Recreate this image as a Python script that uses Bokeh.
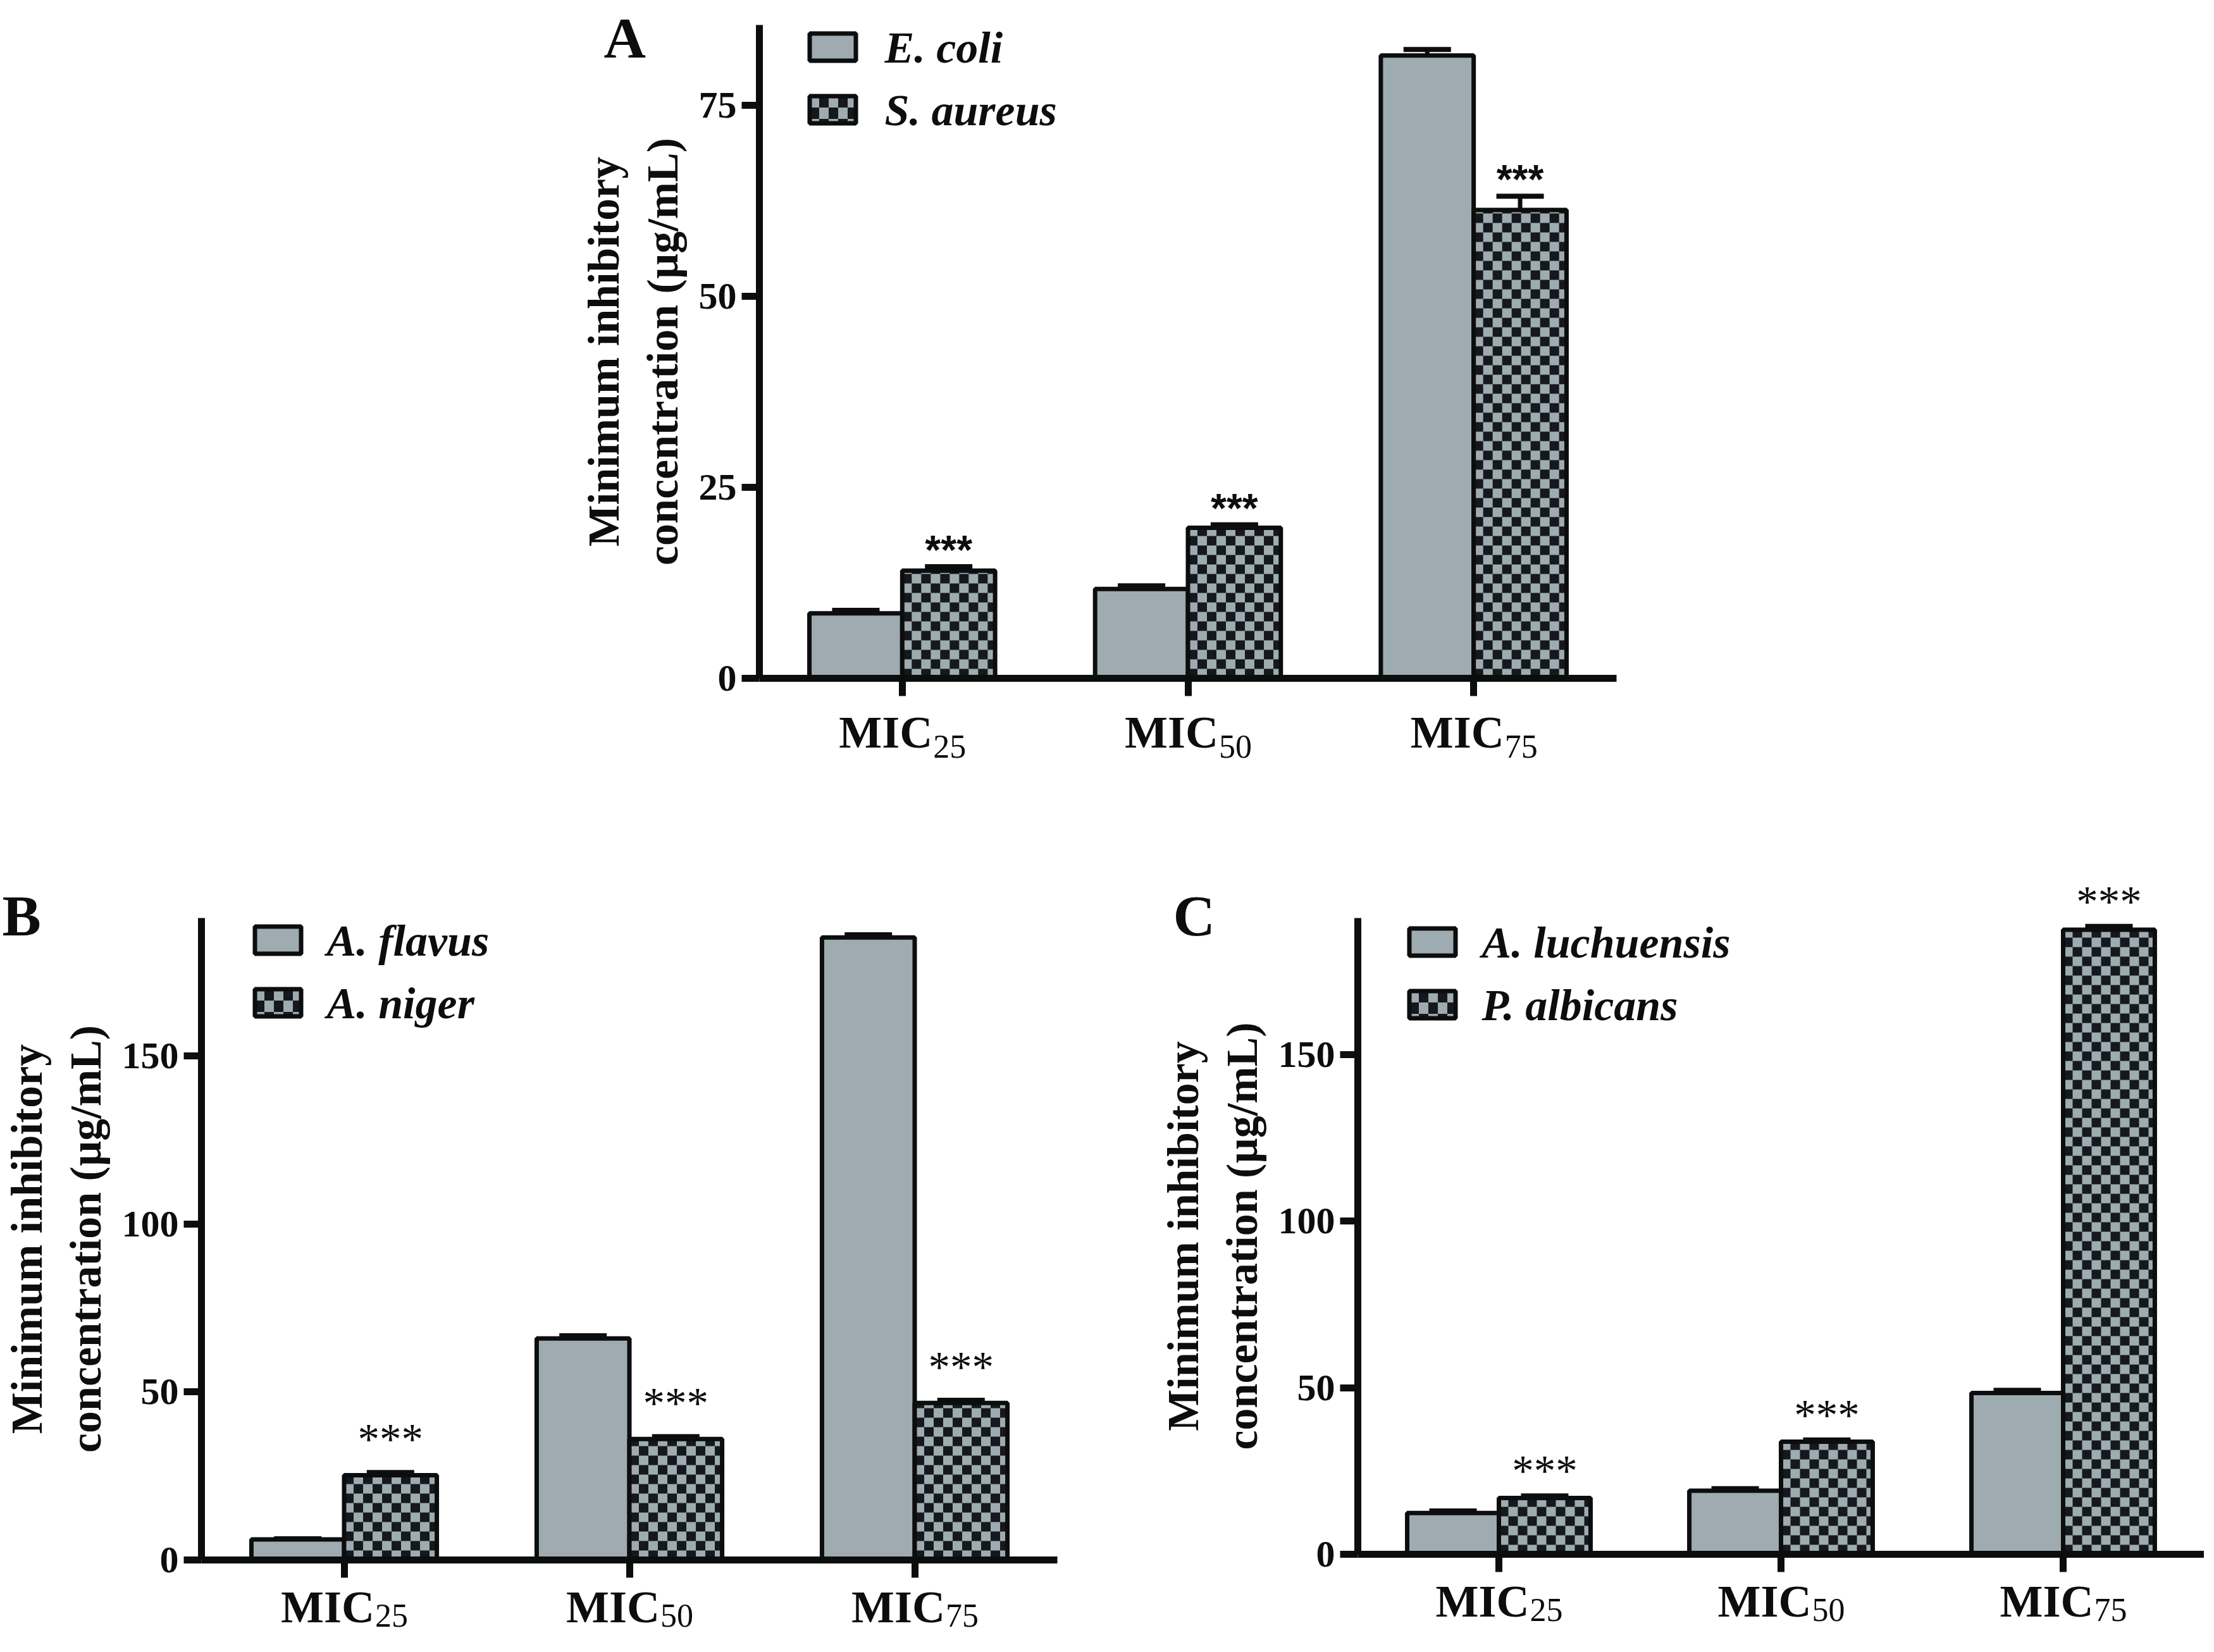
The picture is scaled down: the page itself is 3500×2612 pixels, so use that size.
from bokeh.plotting import figure
from bokeh.models import (FactorRange, Range1d, FixedTicker, ColumnDataSource, Whisker, TeeHead)
from bokeh.core.properties import value
from bokeh.transform import dodge
from bokeh.layouts import column, row
from bokeh.embed import file_html
from bokeh.resources import INLINE

# ---------------- data ----------------
categories = ["MIC25", "MIC50", "MIC75"]
mic_main = ["MIC", "MIC", "MIC"]
mic_sub = ["25", "50", "75"]

# Panel A (bacteria)
a_series = ["E. coli", "S. aureus"]
a_ecoli = [8.5, 11.7, 81.5]
a_ecoli_sd = [0.4, 0.4, 0.8]
a_saureus = [14.1, 19.7, 61.3]
a_saureus_sd = [0.5, 0.4, 1.8]
a_stars = ["***", "***", "***"]
a_yticks = [0, 25, 50, 75]
a_ymax = 85.5

# Panel B (fungi)
b_series = ["A. flavus", "A. niger"]
b_flavus = [6.1, 65.9, 185.2]
b_flavus_sd = [0.2, 0.8, 0.8]
b_niger = [25.2, 36.0, 46.7]
b_niger_sd = [0.8, 0.7, 0.8]
b_stars = ["***", "***", "***"]
b_yticks = [0, 50, 100, 150]
b_ymax = 191

# Panel C (fungi)
c_series = ["A. luchuensis", "P. albicans"]
c_luch = [12.4, 19.1, 48.4]
c_luch_sd = [0.6, 0.6, 0.8]
c_alb = [16.9, 33.8, 187.5]
c_alb_sd = [0.6, 0.5, 1.0]
c_stars = ["***", "***", "***"]
c_yticks = [0, 50, 100, 150]
c_ymax = 191

y_title = "Minimum inhibitory\nconcentration (µg/mL)"

# ---------------- style ----------------
GRAY = "#9eabb1"
DARK = "#15181c"
INK = "#0c0d0d"
SERIF = "Liberation Serif"
BW = 0.325
CELL = 15


def grid_cells(xl, xr, yb, yt, sx, sy, parity, from_top=False):
    L, R, B, T = [], [], [], []
    ncol = int((xr - xl) / sx) + 1
    nrow = int((yt - yb) / sy) + 1
    for j in range(ncol):
        x0 = xl + j * sx
        x1 = min(x0 + sx, xr)
        if x1 <= x0:
            continue
        for k in range(nrow):
            if (j + k) % 2 != parity:
                continue
            if from_top:
                y1 = yt - k * sy
                y0 = max(y1 - sy, yb)
            else:
                y0 = yb + k * sy
                y1 = min(y0 + sy, yt)
            if y1 <= y0:
                continue
            L.append(x0); R.append(x1); B.append(y0); T.append(y1)
    return dict(left=L, right=R, bottom=B, top=T)


def merge(parts):
    out = dict(left=[], right=[], bottom=[], top=[])
    for d in parts:
        for k in out:
            out[k] += d[k]
    return out


def make_panel(letter, names, v1, e1, v2, e2, stars, yticks, ymax, geo):
    ncat = len(categories)
    cw = geo["fw"] / ncat             # px per category unit
    ppu = geo["fh"] / ymax            # px per value unit

    def xd(px):                       # px from frame left -> data
        return px / cw

    def yd(px):                       # px from frame top -> data
        return ymax - px / ppu

    src = ColumnDataSource(dict(
        cat=categories,
        v1=v1, u1=[a + b for a, b in zip(v1, e1)],
        v2=v2, u2=[a + b for a, b in zip(v2, e2)],
        stars=stars, mic=mic_main, sub=mic_sub,
    ))
    p = figure(x_range=FactorRange(*categories, range_padding=0),
               y_range=Range1d(0, ymax),
               frame_width=geo["fw"], frame_height=geo["fh"],
               min_border_left=geo["mbl"], min_border_right=geo["mbr"],
               min_border_top=geo["mbt"], min_border_bottom=geo["mbb"],
               toolbar_location=None, output_backend="svg")
    p.outline_line_color = None
    p.xgrid.visible = False
    p.ygrid.visible = False
    p.background_fill_color = "white"
    p.border_fill_color = "white"

    # series 1: plain grey bars
    p.vbar(x=dodge("cat", -BW / 2, range=p.x_range), top="v1", width=BW, source=src,
           fill_color=GRAY, line_color=INK, line_width=7)
    # series 2: checkerboard bars (grey base + dark cells + outline)
    p.vbar(x=dodge("cat", BW / 2, range=p.x_range), top="v2", width=BW, source=src,
           fill_color=GRAY, line_color=None)
    cells = merge([grid_cells(i + 0.5, i + 0.5 + BW, 0, v, CELL / cw, CELL / ppu, 0)
                   for i, v in enumerate(v2)])
    p.quad(source=ColumnDataSource(cells), left="left", right="right", bottom="bottom",
           top="top", fill_color=DARK, line_color=None)
    p.vbar(x=dodge("cat", BW / 2, range=p.x_range), top="v2", width=BW, source=src,
           fill_color=None, line_color=INK, line_width=7)

    for lo, hi, off in (("v1", "u1", -BW / 2), ("v2", "u2", BW / 2)):
        p.add_layout(Whisker(source=src, base=dodge("cat", off, range=p.x_range),
                             lower=lo, upper=hi,
                             upper_head=TeeHead(size=75, line_width=8, line_color=INK),
                             lower_head=None, line_width=7, line_color=INK))

    # significance stars
    p.text(x=dodge("cat", BW / 2, range=p.x_range), y="u2", text="stars", source=src,
           text_align="center", text_baseline="alphabetic", y_offset=geo["star_dy"],
           text_font=value(geo["star_font"]), text_font_size=geo["star_size"],
           text_font_style=geo["star_style"], text_color=INK, level="overlay")

    # category labels: MIC with subscript
    p.text(x="cat", y=0, text="mic", source=src, text_align="right",
           text_baseline="alphabetic", x_offset=48, y_offset=geo["mic_dy"],
           text_font=value(SERIF), text_font_size="72px", text_font_style="bold",
           text_color=INK, level="overlay")
    p.text(x="cat", y=0, text="sub", source=src, text_align="left",
           text_baseline="alphabetic", x_offset=49, y_offset=geo["sub_dy"],
           text_font=value(SERIF), text_font_size="52px", text_font_style="normal",
           text_color=INK, level="overlay")

    # panel letter
    lsrc = ColumnDataSource(dict(x=[categories[0]], y=[ymax / 2], t=[letter]))
    p.text(x="x", y="y", text="t", source=lsrc, text_align="left", text_baseline="alphabetic",
           x_offset=geo["lx"] - cw / 2, y_offset=geo["lt"] - geo["fh"] / 2,
           text_font=value(SERIF), text_font_size="92px", text_font_style="bold",
           text_color=INK, level="overlay")

    # legend (drawn by hand so that the checker swatch matches the bars)
    bl, bt, pitch = geo["leg_left"], geo["leg_top"], 99
    tops = [bt, bt + pitch]
    sw = dict(left=[xd(bl + 3.5)] * 2, right=[xd(bl + 76.5)] * 2,
              top=[yd(t + 3.5) for t in tops], bottom=[yd(t + 46.5) for t in tops])
    p.quad(source=ColumnDataSource(sw), left="left", right="right", bottom="bottom",
           top="top", fill_color=GRAY, line_color=None, level="overlay")
    lcells = grid_cells(xd(bl + 3.5), xd(bl + 76.5), yd(tops[1] + 46.5), yd(tops[1] + 3.5),
                        CELL / cw, 18 / ppu, 1, from_top=True)
    p.quad(source=ColumnDataSource(lcells), left="left", right="right", bottom="bottom",
           top="top", fill_color=DARK, line_color=None, level="overlay")
    p.quad(source=ColumnDataSource(sw), left="left", right="right", bottom="bottom",
           top="top", fill_color=None, line_color=INK, line_width=7, level="overlay")
    tsrc = ColumnDataSource(dict(x=[xd(geo["leg_text"])] * 2,
                                 y=[yd(t + 47) for t in tops], t=names))
    p.text(x="x", y="y", text="t", source=tsrc, text_align="left", text_baseline="alphabetic",
           y_offset=-21, text_font=value(SERIF), text_font_size="70px",
           text_font_style="bold italic", text_color=INK, level="overlay")

    for ax in (p.xaxis[0], p.yaxis[0]):
        ax.axis_line_width = 11
        ax.axis_line_color = INK
        ax.major_tick_line_width = 11
        ax.major_tick_line_color = INK
        ax.major_tick_out = 28
        ax.major_tick_in = 0
        ax.minor_tick_line_color = None

    p.xaxis.major_label_text_color = None
    p.yaxis.ticker = FixedTicker(ticks=yticks)
    p.yaxis.major_label_text_font = SERIF
    p.yaxis.major_label_text_font_size = "60px"
    p.yaxis.major_label_text_font_style = "bold"
    p.yaxis.major_label_text_color = INK
    p.yaxis.major_label_standoff = 8
    p.yaxis.axis_label = y_title
    p.yaxis.axis_label_text_font = SERIF
    p.yaxis.axis_label_text_font_size = "70px"
    p.yaxis.axis_label_text_font_style = "bold"
    p.yaxis.axis_label_text_color = INK
    p.yaxis.axis_label_standoff = 16
    return p


geoA = dict(mbl=1200, fw=1355, mbr=929, mbt=39, fh=1033, mbb=300,
            lx=-246, lt=20, leg_left=76, leg_top=10, leg_text=198,
            star_dy=-26, star_font="Liberation Sans", star_size="64px", star_style="bold",
            mic_dy=85, sub_dy=108)
geoB = dict(mbl=318, fw=1353, mbr=119, mbt=68, fh=1015, mbb=141,
            lx=-315, lt=-4, leg_left=81, leg_top=10, leg_text=198,
            star_dy=-52, star_font=SERIF, star_size="69px", star_style="normal",
            mic_dy=74, sub_dy=88)
geoC = dict(mbl=356, fw=1338, mbr=0, mbt=79, fh=1006, mbb=139,
            lx=-292, lt=-4, leg_left=78, leg_top=13, leg_text=196,
            star_dy=-39, star_font=SERIF, star_size="69px", star_style="normal",
            mic_dy=74, sub_dy=88)

pA = make_panel("A", a_series, a_ecoli, a_ecoli_sd, a_saureus, a_saureus_sd, a_stars,
                a_yticks, a_ymax, geoA)
pB = make_panel("B", b_series, b_flavus, b_flavus_sd, b_niger, b_niger_sd, b_stars,
                b_yticks, b_ymax, geoB)
pC = make_panel("C", c_series, c_luch, c_luch_sd, c_alb, c_alb_sd, c_stars,
                c_yticks, c_ymax, geoC)

layout = column(pA, row(pB, pC, spacing=0), spacing=0)

with open("out.html", "w") as f:
    f.write(file_html(layout, INLINE))
